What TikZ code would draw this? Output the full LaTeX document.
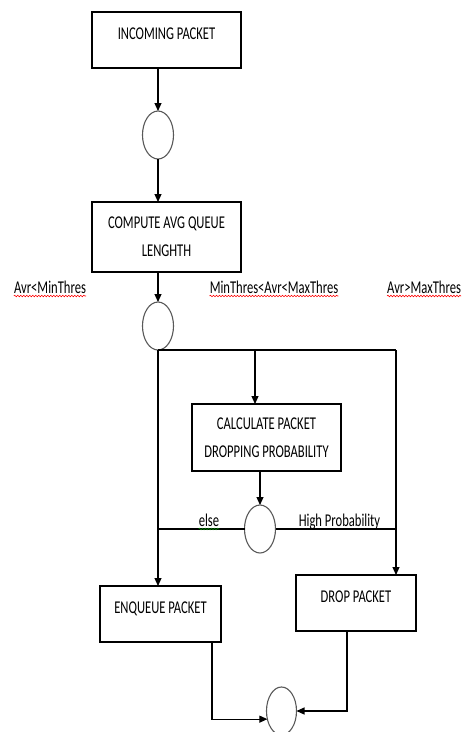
\documentclass[tikz,border=0pt]{standalone}
\usepackage{fontspec}
\setmainfont{Carlito}[FakeStretch=0.7]
\usepackage{tikz}
\usetikzlibrary{arrows.meta,positioning,shapes.geometric,decorations.pathmorphing}
\tikzset{
  pbox/.style={draw, line width=1.2pt, inner sep=0pt, outer sep=0pt, minimum width=149pt,
    align=center, font=\fontsize{18}{28}\selectfont},
  upbox/.style={pbox, text depth=12pt, minimum height=56pt},
  jn/.style={draw=gray!70!black, line width=1.1pt, ellipse, inner sep=0pt, outer sep=0pt,
    minimum width=31pt, minimum height=48pt},
  cond/.style={inner sep=0pt, font=\fontsize{18}{20}\selectfont, anchor=base},
  arrw/.style={-{Triangle[length=8pt, width=7pt]}, line width=1.1pt},
  lnk/.style={line width=1.1pt},
  squig/.style={decorate, decoration={snake, amplitude=0.8pt, segment length=3pt},
    line width=0.6pt},
}

\begin{document}
\begin{tikzpicture}[x=1pt, y=1pt]
  \path[use as bounding box, clip] (0,0) rectangle (464,-732);

  \node[upbox] (inpkt) at (166.5,-40) {INCOMING PACKET};
  \node[jn, below=43pt of inpkt, xshift=-8.5pt] (jn1) {};
  \node[pbox, minimum height=70pt, below=43pt of jn1, xshift=8.5pt] (avg)
    {COMPUTE AVG QUEUE\\LENGHTH};
  \node[jn, below=30pt of avg, xshift=-8.5pt] (jn2) {};

  \node[cond] (lomin) at (50,-293) {Avr<MinThres};
  \node[cond] (midth) at (274,-293) {MinThres<Avr<MaxThres};
  \node[cond, anchor=base west] (himax) at (387,-293) {Avr>MaxThres};

  \node[pbox, minimum height=67pt] (calc) at (266.5,-437.5)
    {CALCULATE PACKET\\DROPPING PROBABILITY};
  \node[jn, below=34pt of calc, xshift=-6.5pt] (jn3) {};

  \node[cond] (elsel) at (209,-526) {else};
  \node[cond] (hiprob) at (339.5,-526) {High Probability};

  \node[upbox, minimum width=121pt] (enq) at (160.5,-614) {ENQUEUE PACKET};
  \node[upbox, minimum width=120pt] (drop) at (356,-603) {DROP PACKET};
  \node[jn, minimum width=30pt] (jn4) at (281.5,-711) {};

  \path (jn2.south) ++(97,0) coordinate (mid) ++(141,0) coordinate (rt);

  \draw[arrw] (inpkt.south -| jn1.north) -- (jn1.north);
  \draw[arrw] (jn1.south) -- (jn1.south |- avg.north);
  \draw[arrw] (avg.south -| jn2.north) -- (jn2.north);
  \draw[lnk] (jn2.south) -- (rt);
  \draw[arrw] (mid) -- (mid |- calc.north);
  \draw[arrw] (calc.south -| jn3.north) -- (jn3.north);
  \draw[arrw] (jn2.south) -- (jn2.south |- enq.north);
  \draw[arrw] (rt) -- (rt |- drop.north);
  \draw[lnk] (jn3.west) -- (jn2.south |- jn3.west);
  \draw[lnk] (jn3.east) -- (rt |- jn3.east);
  \draw[arrw] ([xshift=51.5pt]enq.south) |- (jn4.210);
  \draw[arrw] ([xshift=-9pt]drop.south) |- (jn4.east);

  \draw[squig, red] ([yshift=-3pt]lomin.base west) -- ([yshift=-3pt]lomin.base east);
  \draw[squig, red] ([yshift=-3pt]midth.base west) -- ([yshift=-3pt]midth.base east);
  \draw[squig, red] ([yshift=-3pt]himax.base west) -- ([yshift=-3pt]himax.base east);
  \draw[squig, green!50!black] ([yshift=-3pt]elsel.base west) -- ([yshift=-3pt]elsel.base east);
\end{tikzpicture}
\end{document}
